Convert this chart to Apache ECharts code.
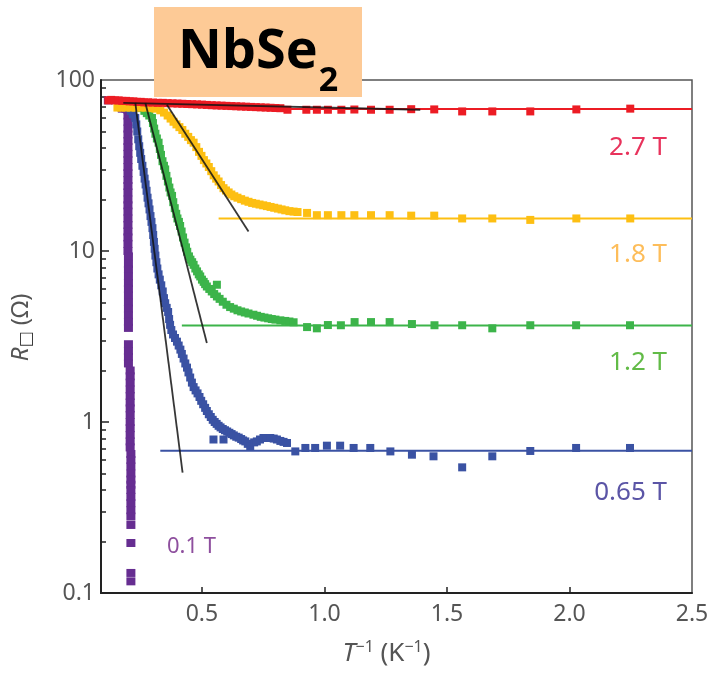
<!DOCTYPE html>
<html><head><meta charset="utf-8">
<script src="https://cdn.jsdelivr.net/npm/echarts@6/dist/echarts.min.js"></script>
<style>html,body{margin:0;padding:0;background:#fff}#c{width:715px;height:677px}</style>
</head><body><div id="c"></div>
<script>
// ---- tick values ----
const xTickLabels = [0.5, 1.0, 1.5, 2.0, 2.5];
const xTickMarks = [0.5, 1.0, 1.5, 2.0];
const yTickLabels = [0.1, 1, 10, 100];
const yMajorTicks = [1, 10];
const yMinorTicks = [0.2,0.3,0.4,0.5,0.6,0.7,0.8,0.9,2,3,4,5,6,7,8,9,20,30,40,50,60,70,80,90];

// ---- data: [1/T (K^-1), R (Ohm)] ----
const purple01T = [
[0.118,76],[0.175,68],[0.19,68],
[0.198,67],[0.198,62],[0.198,57],[0.198,52],[0.198,48],[0.198,44],[0.198,40.5],[0.198,37],[0.198,34],[0.198,31],[0.198,28.5],[0.198,26],[0.198,24],[0.198,22],[0.198,20],[0.198,18.5],[0.198,17],[0.198,15.5],[0.198,14.2],[0.198,13],[0.198,12],[0.198,11],[0.198,10],
[0.2,9.3],[0.2,8.4],[0.2,7.8],[0.2,7.1],[0.2,6.5],[0.2,6.0],[0.2,5.5],[0.2,5.0],[0.2,4.6],[0.2,4.2],[0.2,3.85],[0.2,3.55],[0.2,2.85],[0.2,2.6],[0.2,2.4],[0.2,2.2],
[0.207,2.0],[0.207,1.85],[0.207,1.7],[0.207,1.55],[0.207,1.42],[0.207,1.3],[0.207,1.2],[0.207,1.1],[0.207,1.0],[0.207,0.92],[0.207,0.84],[0.207,0.77],[0.207,0.71],
[0.21,0.65],[0.21,0.6],[0.21,0.55],[0.21,0.5],[0.21,0.46],[0.21,0.43],[0.21,0.40],[0.21,0.365],[0.21,0.335],[0.21,0.305],[0.21,0.28],[0.21,0.25],[0.21,0.196],[0.21,0.131],[0.21,0.117]
];
const blue065T = [
[0.175,70],[0.19,69.5],[0.2,68.5],[0.21,66],[0.218,63],[0.228,60],[0.232,55],[0.236,50],[0.24,45],[0.244,41],[0.248,37.5],[0.252,34.5],[0.257,31.5],[0.262,29],[0.266,26.5],[0.27,24.5],[0.274,22.5],[0.278,20.5],[0.282,19],[0.286,17.5],[0.29,16],[0.294,14.8],[0.298,13.6],[0.301,12.4],[0.304,11.3],[0.307,10.3],[0.31,9.4],[0.314,8.6],[0.318,7.9],[0.323,7.3],[0.328,6.8],[0.334,6.3],[0.34,5.8],[0.345,5.3],[0.35,4.95],[0.356,4.65],[0.362,4.4],
[0.366,4.0],[0.37,3.7],[0.375,3.45],[0.382,3.25],[0.39,3.1],[0.398,2.95],[0.405,2.8],[0.412,2.65],[0.418,2.5],[0.425,2.35],[0.432,2.2],[0.439,2.08],[0.445,1.95],[0.452,1.82],[0.459,1.7],[0.466,1.6],[0.474,1.53],[0.482,1.47],[0.49,1.4],[0.497,1.33],[0.505,1.27],[0.513,1.21],[0.52,1.16],[0.528,1.11],[0.536,1.07],[0.544,1.03],[0.552,1.0],[0.56,0.975],[0.568,0.95],[0.576,0.93],[0.585,0.91],[0.594,0.895],[0.603,0.88],[0.612,0.865],[0.621,0.85],[0.63,0.835],[0.64,0.82],[0.65,0.81],[0.66,0.795],[0.668,0.78],[0.677,0.77],[0.687,0.745],[0.697,0.72],
[0.713,0.76],[0.724,0.77],[0.737,0.79],[0.751,0.806],[0.765,0.806],[0.779,0.806],[0.793,0.8],[0.806,0.79],[0.82,0.775],[0.833,0.765],[0.847,0.754],[0.881,0.673],[0.922,0.705],[0.962,0.705],[1.01,0.727],[1.064,0.727],[1.119,0.705],[1.187,0.705],[1.269,0.673],[1.357,0.644],[1.445,0.63],[1.562,0.543],[1.685,0.63],[1.84,0.677],[2.027,0.705],[2.247,0.705],
[0.547,0.79],[0.588,0.79]
];
const green12T = [
[0.215,70],[0.23,70],[0.245,69.5],[0.255,68.5],[0.265,66],[0.275,64],[0.285,62],[0.296,60],[0.3,56],[0.305,52],[0.31,48.5],[0.316,45.5],[0.323,43],[0.328,39.5],[0.333,36.5],[0.339,33.5],[0.345,31.5],[0.35,30],[0.355,27.5],[0.361,25.5],[0.367,23.5],[0.372,22],[0.378,21],[0.383,19.3],[0.389,17.8],[0.395,16.5],[0.4,15.5],[0.406,14.8],[0.411,14],[0.417,13],[0.423,12],[0.429,11.2],[0.435,10.5],[0.44,9.9],[0.447,9.3],[0.453,8.9],[0.46,8.6],[0.466,8.3],[0.473,7.9],[0.48,7.6],[0.487,7.3],[0.493,7.1],[0.5,6.8],[0.507,6.6],[0.513,6.4],[0.52,6.2],[0.53,6.0],[0.54,5.8],[0.55,5.6],[0.561,5.42],[0.561,6.35],[0.572,5.25],[0.585,5.05],[0.6,4.85],[0.615,4.7],[0.63,4.6],[0.645,4.5],[0.66,4.43],[0.675,4.37],[0.69,4.31],[0.71,4.24],[0.725,4.18],[0.74,4.12],[0.755,4.08],[0.77,4.04],[0.785,4.0],[0.8,3.97],[0.82,3.93],[0.84,3.9],[0.857,3.87],[0.874,3.83],
[0.929,3.59],[0.969,3.53],[1.014,3.69],[1.067,3.68],[1.123,3.84],[1.19,3.84],[1.266,3.84],[1.357,3.74],[1.449,3.68],[1.562,3.68],[1.685,3.53],[1.84,3.68],[2.027,3.68],[2.247,3.68]
];
const yellow18T = [
[0.155,69],[0.17,69],[0.19,69],[0.21,69],[0.23,69],[0.25,69],[0.27,69],[0.29,68.5],[0.31,68],[0.33,66.5],[0.345,64.5],[0.36,62],[0.372,59.5],[0.384,57],[0.396,55],[0.408,53],[0.42,51],[0.432,48.5],[0.444,46.5],[0.455,44.5],[0.466,43],[0.477,40.5],[0.488,38],[0.498,36],[0.508,34],[0.518,32.5],[0.528,31],[0.538,29.3],[0.548,27.7],[0.558,26.5],[0.568,25.5],[0.578,24.3],[0.588,23.3],[0.598,22.6],[0.609,22],[0.62,21.4],[0.632,20.9],[0.645,20.5],[0.66,20.1],[0.675,19.7],[0.69,19.4],[0.705,19.1],[0.72,18.9],[0.735,18.7],[0.75,18.5],[0.765,18.3],[0.78,18.1],[0.795,17.9],[0.81,17.7],[0.825,17.5],[0.84,17.3],[0.857,17.1],[0.874,17.0],[0.89,16.9],
[0.929,16.7],[0.969,16.2],[1.014,16.2],[1.069,16.2],[1.122,16.2],[1.19,16.2],[1.266,16.2],[1.354,16.1],[1.448,16.1],[1.562,15.5],[1.685,15.5],[1.84,15.2],[2.028,15.5],[2.248,15.5]
];
const red27T = [
[0.118,76],[0.13,76.5],[0.145,76],[0.16,76],[0.175,75.5],[0.19,75.5],[0.205,75],[0.22,75],[0.235,74.5],[0.25,74.5],[0.265,74],[0.28,74],[0.3,73.8],[0.32,73.5],[0.34,73.5],[0.36,73.2],[0.38,73],[0.4,72.8],[0.42,72.6],[0.44,72.4],[0.46,72.2],[0.48,72],[0.5,71.8],[0.52,71.5],[0.54,71.2],[0.56,71],[0.58,70.8],[0.6,70.6],[0.62,70.4],[0.64,70.2],[0.66,70],[0.68,69.8],[0.7,69.6],[0.72,69.4],[0.74,69.2],[0.76,69],[0.78,68.8],[0.8,68.6],[0.82,68.4],
[0.849,67],[0.926,67],[0.969,67],[1.014,67],[1.069,67],[1.122,67.2],[1.19,67],[1.266,67],[1.354,67.5],[1.448,67.3],[1.562,65.5],[1.685,65.5],[1.84,65.5],[2.028,67.3],[2.248,68]
];
// saturation levels (horizontal lines)
const levelRed = [[0.85,67.7],[2.5,67.7]];
const levelYellow = [[0.568,15.5],[2.5,15.5]];
const levelGreen = [[0.418,3.67],[2.5,3.67]];
const levelBlue = [[0.33,0.68],[2.5,0.68]];
// activated fits (black lines)
const fitRed = [[0.179,73.4],[1.391,67]];
const fitYellow = [[0.357,71.7],[0.69,13.0]];
const fitGreen = [[0.269,73.4],[0.52,2.9]];
const fitBlue = [[0.228,73.4],[0.421,0.506]];

const C = {red:'#ec1c24', yellow:'#fdbf12', green:'#3cb44a', blue:'#3a52a3', purple:'#662d91'};
const FONT = 'Noto Sans';

function pts(name, data, color, size){
  return {name, type:'scatter', data, symbol:'rect', symbolSize:size || 8,
    itemStyle:{color, opacity:1}, emphasis:{disabled:true}, z:3};
}
function hline(data, color){
  return {type:'line', data, symbol:'none', lineStyle:{color, width:2}, z:2, silent:true};
}
function fit(data){
  return {type:'line', data, symbol:'none', lineStyle:{color:'rgba(20,20,20,0.85)', width:1.8}, z:5, silent:true};
}

const chart = echarts.init(document.getElementById('c'), null, {renderer:'canvas'});
chart.setOption({
  animation:false,
  backgroundColor:'#fff',
  grid:{left:101, right:23, top:80, bottom:84, show:true, borderColor:'#555', borderWidth:1.5, backgroundColor:'transparent'},
  xAxis:{
    type:'value', min:0.088, max:2.5,
    name:'{i|T}{sup|−1}{n| (K}{sup|−1}{n|)}', nameLocation:'middle', nameGap:46,
    nameTextStyle:{color:'#555', fontFamily:FONT, fontSize:26, padding:[0,20,0,0],
      rich:{i:{fontStyle:'italic', fontSize:26, color:'#555', fontFamily:FONT, lineHeight:30},
            sup:{fontSize:16, color:'#555', fontFamily:FONT, verticalAlign:'top', lineHeight:19},
            n:{fontSize:26, color:'#555', fontFamily:FONT, lineHeight:30}}},
    axisLine:{show:true, onZero:false, lineStyle:{color:'#222', width:2}},
    axisTick:{show:true, inside:true, length:6, customValues:xTickMarks, lineStyle:{color:'#222', width:1.5}},
    axisLabel:{customValues:xTickLabels, formatter:v=>v.toFixed(1), color:'#555', fontFamily:FONT, fontSize:23, margin:10},
    splitLine:{show:false}
  },
  yAxis:[{
    type:'log', logBase:10, min:0.1, max:100,
    name:'{i|R}{s|□}{n| (Ω)}', nameLocation:'middle', nameGap:66,
    nameTextStyle:{color:'#555', fontFamily:FONT, fontSize:24, padding:[0,0,0,18],
      rich:{i:{fontStyle:'italic', fontSize:24, color:'#555', fontFamily:FONT, lineHeight:28},
            s:{fontSize:17, color:'#333', verticalAlign:'bottom', fontFamily:'DejaVu Sans', fontWeight:'bold', lineHeight:22},
            n:{fontSize:24, color:'#555', fontFamily:FONT, lineHeight:28}}},
    axisLine:{show:true, onZero:false, lineStyle:{color:'#222', width:2}},
    axisTick:{show:true, inside:true, length:5, customValues:yMinorTicks, lineStyle:{color:'#222', width:1.5}},
    axisLabel:{customValues:yTickLabels, formatter:v=>(v<1? v.toFixed(1) : String(Math.round(v))), color:'#555', fontFamily:FONT, fontSize:23, margin:6},
    splitLine:{show:false}
  },{
    type:'log', logBase:10, min:0.1, max:100, position:'left', offset:0,
    axisLine:{show:false}, axisLabel:{show:false}, splitLine:{show:false},
    axisTick:{show:true, inside:true, length:8, customValues:yMajorTicks, lineStyle:{color:'#222', width:1.5}}
  }],
  series:[
    hline(levelRed, C.red), hline(levelYellow, C.yellow), hline(levelGreen, C.green), hline(levelBlue, C.blue),
    pts('0.1 T', purple01T, C.purple, [9,8]),
    pts('0.65 T', blue065T, C.blue),
    pts('1.2 T', green12T, C.green),
    pts('1.8 T', yellow18T, C.yellow),
    pts('2.7 T', red27T, C.red),
    fit(fitRed), fit(fitYellow), fit(fitGreen), fit(fitBlue)
  ],
  graphic:[
    {type:'rect', shape:{x:154, y:7, width:208, height:90}, style:{fill:'#fdca96'}, z:100},
    {type:'text', x:258, y:26, z:101, style:{
      text:'{a|NbSe}{b|2}', align:'center', verticalAlign:'top',
      rich:{a:{fontSize:54, fontWeight:'bold', fontFamily:'Open Sans', fill:'#000', lineHeight:54, verticalAlign:'top'},
            b:{fontSize:34, fontWeight:'bold', fontFamily:'Open Sans', fill:'#000', lineHeight:34, padding:[38,0,0,1], verticalAlign:'top'}}}},
    {type:'text', x:667, y:148, z:50, style:{text:'2.7 T', fill:'#e8335c', font:'26px "Noto Sans"', align:'right', verticalAlign:'middle'}},
    {type:'text', x:667, y:255, z:50, style:{text:'1.8 T', fill:'#fdbd5a', font:'26px "Noto Sans"', align:'right', verticalAlign:'middle'}},
    {type:'text', x:667, y:363, z:50, style:{text:'1.2 T', fill:'#62bb47', font:'26px "Noto Sans"', align:'right', verticalAlign:'middle'}},
    {type:'text', x:667, y:493, z:50, style:{text:'0.65 T', fill:'#5b55a6', font:'26px "Noto Sans"', align:'right', verticalAlign:'middle'}},
    {type:'text', x:167, y:547, z:50, style:{text:'0.1 T', fill:'#8e4f9e', font:'22px "Noto Sans"', align:'left', verticalAlign:'middle'}}
  ]
});
</script>
</body></html>
